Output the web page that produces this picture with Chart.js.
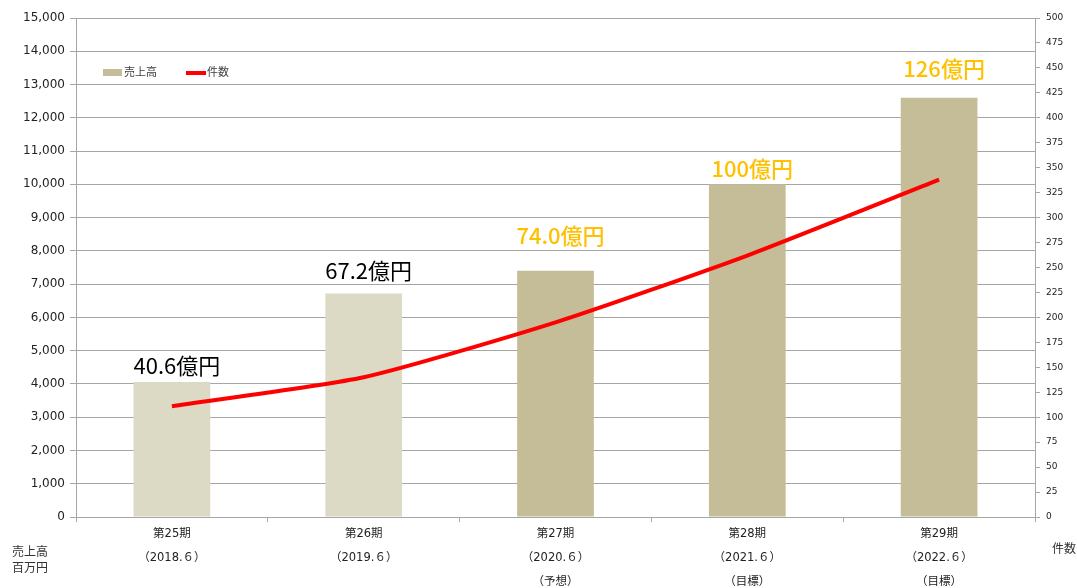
<!DOCTYPE html>
<html>
<head>
<meta charset="utf-8">
<script src="https://cdn.jsdelivr.net/npm/chart.js@4.4.1/dist/chart.umd.min.js"></script>
<style>
html,body{margin:0;padding:0;background:#fff;}
#wrap{position:relative;width:1077px;height:588px;}
</style>
</head>
<body>
<div id="wrap"><canvas id="c" width="1077" height="588"></canvas></div>
<script>
const periods = ['第25期','第26期','第27期','第28期','第29期'];
const dates = ['（2018.６）','（2019.６）','（2020.６）','（2021.６）','（2022.６）'];
const notes = ['','','（予想）','（目標）','（目標）'];
const sales = [4060, 6720, 7400, 10000, 12600];
const counts = [111, 140, 195, 262, 338];
const salesLabels = ['40.6億円','67.2億円','74.0億円','100億円','126億円'];
const leftTicks = [0,1000,2000,3000,4000,5000,6000,7000,8000,9000,10000,11000,12000,13000,14000,15000];
const rightTicks = [0,25,50,75,100,125,150,175,200,225,250,275,300,325,350,375,400,425,450,475,500];

const categories = periods.map((p,i)=> notes[i] ? [p, dates[i], notes[i]] : [p, dates[i]]);
const barColors = ['#dcd9c4','#dcd9c4','#c4bd97','#c4bd97','#c4bd97'];
const labelColors = ['#000000','#000000','#ffc000','#ffc000','#ffc000'];
const labelGap = [16, 23, 35, 16, 29];
const FONT = '"DejaVu Sans","Noto Sans CJK JP",sans-serif';

const extras = {
  id:'extras',
  afterDatasetsDraw(chart){
    const ctx = chart.ctx;
    const meta = chart.getDatasetMeta(1);
    ctx.save();
    ctx.textAlign='center';
    ctx.textBaseline='middle';
    meta.data.forEach((bar,i)=>{
      ctx.font = (i>=2 ? '500 ' : '400 ') + '22px "Noto Sans CJK JP",sans-serif';
      ctx.fillStyle = labelColors[i];
      ctx.fillText(salesLabels[i], bar.x + 5, bar.y - labelGap[i]);
    });
    // legend
    ctx.textAlign='left';
    ctx.textBaseline='middle';
    ctx.font = '11px "Noto Sans CJK JP",sans-serif';
    const ly = 72;
    ctx.fillStyle = '#c4bd97';
    ctx.fillRect(103, ly-3, 19, 7);
    ctx.fillStyle = '#404040';
    ctx.fillText('売上高', 124, ly);
    ctx.fillStyle = '#ff0000';
    ctx.fillRect(186, ly-1, 20, 4);
    ctx.fillStyle = '#404040';
    ctx.fillText('件数', 207, ly);
    // axis unit texts
    ctx.font = '12px "Noto Sans CJK JP",sans-serif';
    ctx.fillStyle = '#333333';
    ctx.fillText('売上高', 12, 551);
    ctx.fillText('百万円', 12, 567);
    ctx.fillText('件数', 1052, 548);
    ctx.restore();
  }
};

new Chart(document.getElementById('c'), {
  data:{
    labels: categories,
    datasets:[
      {type:'line', label:'件数', data:counts, yAxisID:'y2', borderColor:'#ff0000', borderWidth:4,
       pointRadius:0, tension:0.2, order:0, fill:false},
      {type:'bar', label:'売上高', data:sales, yAxisID:'y', backgroundColor:barColors,
       barPercentage:0.4, categoryPercentage:1.0, order:1}
    ]
  },
  options:{
    responsive:false,
    animation:false,
    layout:{padding:{top:18,bottom:0,left:0,right:0}},
    plugins:{legend:{display:false}, tooltip:{enabled:false}},
    scales:{
      x:{
        offset:true,
        grid:{offset:true, drawOnChartArea:false, color:'#a6a6a6', tickLength:5},
        border:{color:'#a6a6a6'},
        ticks:{font:{family:FONT,size:11.5,lineHeight:2.1}, color:'#222', padding:0, maxRotation:0, autoSkip:false},
        afterFit(s){ s.height = 71; }
      },
      y:{
        position:'left', min:0, max:15000,
        afterBuildTicks(s){ s.ticks = leftTicks.map(v=>({value:v})); },
        grid:{color:'#a6a6a6', tickLength:6},
        border:{color:'#a6a6a6'},
        ticks:{font:{family:FONT,size:12}, color:'#222', padding:5,
          callback:v=>v.toLocaleString('en-US')},
        afterFit(s){ s.width = 76; }
      },
      y2:{
        position:'right', min:0, max:500,
        afterBuildTicks(s){ s.ticks = rightTicks.map(v=>({value:v})); },
        grid:{drawOnChartArea:false, color:'#a6a6a6', tickLength:5},
        border:{color:'#a6a6a6'},
        ticks:{font:{family:FONT,size:9}, color:'#222', padding:6},
        afterFit(s){ s.width = 42; }
      }
    }
  },
  plugins:[extras]
});
</script>
</body>
</html>
